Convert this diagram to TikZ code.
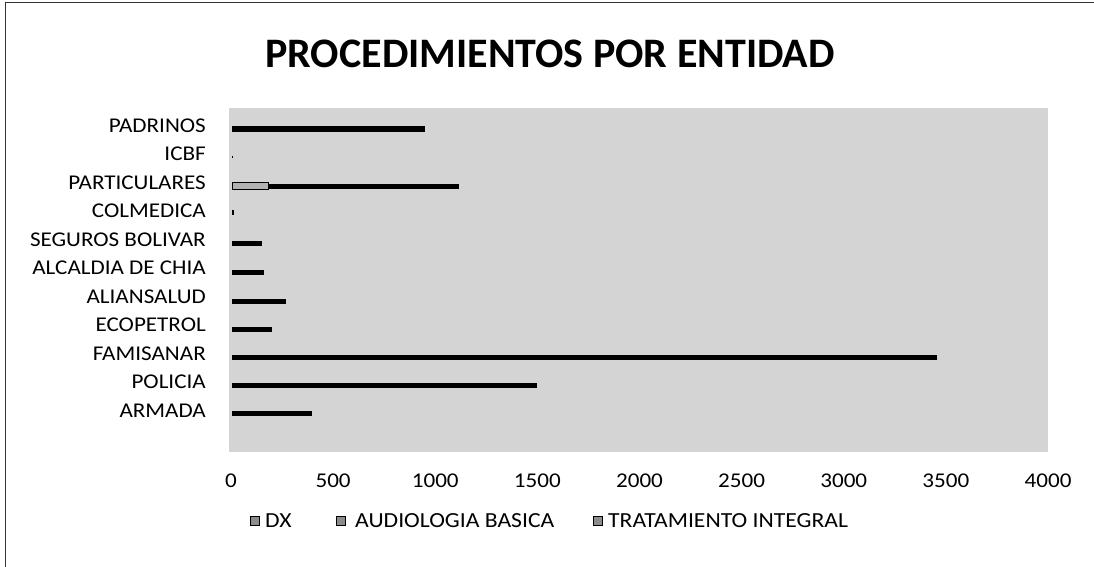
\documentclass[tikz,border=0pt]{standalone}
\usepackage{fontspec}
\setmainfont{Carlito}
\newfontfamily\chartfont[FakeStretch=1.1]{Carlito}
\begin{document}
\begin{tikzpicture}[x=1pt,y=-1pt,
  cat/.style={anchor=east,font=\chartfont\fontsize{21}{22}\selectfont,inner sep=0pt},
  tick/.style={anchor=center,font=\chartfont\fontsize{21}{22}\selectfont,inner sep=0pt},
  leg/.style={anchor=west,font=\chartfont\fontsize{21.5}{22}\selectfont,inner sep=0pt},
  bar/.style={fill=black,draw=none},
  legmark/.style={draw=black,fill=black!45,line width=0.8pt,minimum size=9pt,inner sep=0pt},
  area/.style={fill=black!17,draw=none}]
\useasboundingbox (0,0) rectangle (1094,567);
\fill[white] (0,0) rectangle (1094,567);
% frame
\draw[line width=1pt,black!80] (5,567) -- (5,3) -- (1094,3);
% title
\node[font=\bfseries\fontsize{42}{44}\selectfont,inner sep=0pt] (title) at (550,53.5) {PROCEDIMIENTOS POR ENTIDAD};
% plot area
\fill[area] (229,108) rectangle (1048,452);
% category labels
\node[cat] (l1) at (206,126) {PADRINOS};
\node[cat] (l2) at (206,154) {ICBF};
\node[cat] (l3) at (206,183) {PARTICULARES};
\node[cat] (l4) at (206,211) {COLMEDICA};
\node[cat] (l5) at (206,240) {SEGUROS BOLIVAR};
\node[cat] (l6) at (206,268) {ALCALDIA DE CHIA};
\node[cat] (l7) at (206,297) {ALIANSALUD};
\node[cat] (l8) at (206,325) {ECOPETROL};
\node[cat] (l9) at (206,354) {FAMISANAR};
\node[cat] (l10) at (206,382) {POLICIA};
\node[cat] (l11) at (206,411) {ARMADA};
% bars
\fill[bar] (232,126.5) rectangle (425,131.5);
\fill[bar] (232,156) rectangle (233,158);
\draw[black,fill=black!30,line width=0.8pt] (232,182) rectangle (268,189);
\fill[bar] (268,183.5) rectangle (459,188.5);
\fill[bar] (232,210) rectangle (234,215);
\fill[bar] (232,240.5) rectangle (262,245.5);
\fill[bar] (232,269.5) rectangle (264,274.5);
\fill[bar] (232,298.5) rectangle (286,303.5);
\fill[bar] (232,326.5) rectangle (272,331.5);
\fill[bar] (232,354.5) rectangle (937,359.5);
\fill[bar] (232,382.5) rectangle (537,387.5);
\fill[bar] (232,411) rectangle (312,416);
% ticks
\foreach \v [count=\i] in {0,500,1000,1500,2000,2500,3000,3500,4000}{
  \node[tick] (t\i) at ({231+\v*0.20425},481) {\v};
}
% legend
\node[legmark] (m1) at (255,521) {};
\node[leg] (g1) at (265,521) {DX};
\node[legmark] (m2) at (341,521) {};
\node[leg] (g2) at (355,521) {AUDIOLOGIA BASICA};
\node[legmark] (m3) at (598,521) {};
\node[leg] (g3) at (608,521) {TRATAMIENTO INTEGRAL};
\end{tikzpicture}
\end{document}
